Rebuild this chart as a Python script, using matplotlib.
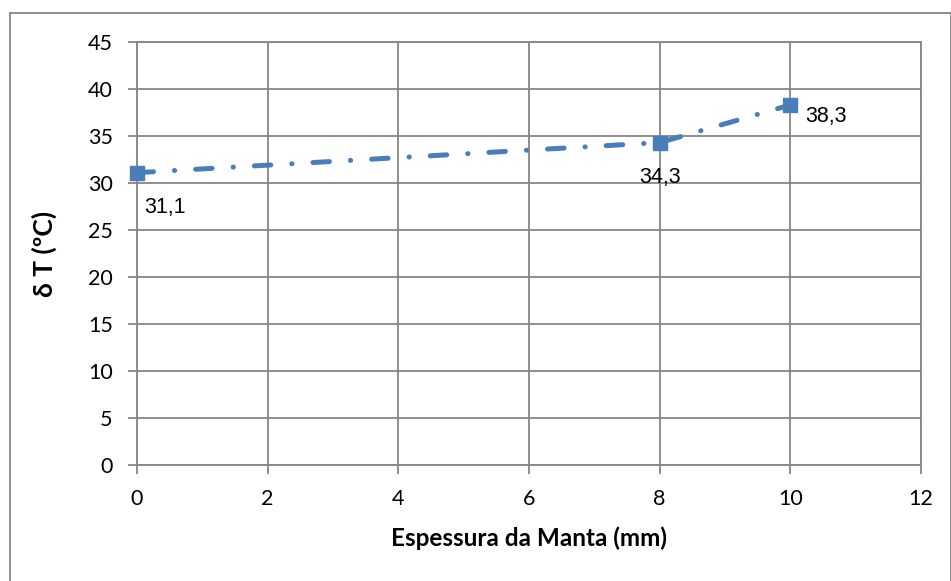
import matplotlib.pyplot as plt
from matplotlib.patches import Rectangle

espessura = [0, 8, 10]
delta_t = [31.1, 34.3, 38.3]
rotulos = ["31,1", "34,3", "38,3"]
offsets = [(5, -25), (0, -25), (11, -8)]
has = ["left", "center", "left"]

x_ticks = [0, 2, 4, 6, 8, 10, 12]
y_ticks = [0, 5, 10, 15, 20, 25, 30, 35, 40, 45]

cinza = "#868686"
azul = "#4A7EBB"

fig = plt.figure(figsize=(9.51, 5.81), dpi=100)
ax = fig.add_axes([137 / 951, 1 - 465 / 581, (921 - 137) / 951, (465 - 42) / 581])

ax.plot(espessura, delta_t, color=azul, linewidth=3.6, marker="s", markersize=10,
        dashes=(3.3, 4.2, 0.05, 4.2), dash_capstyle="round", solid_capstyle="round",
        clip_on=False, zorder=3)

for x, y, t, off, ha in zip(espessura, delta_t, rotulos, offsets, has):
    ax.annotate(t, (x, y), xytext=off, textcoords="offset points", ha=ha, va="center",
                fontsize=15.5, family="Liberation Sans", color="black")

ax.set_xlim(0, 12)
ax.set_ylim(0, 45)
ax.set_xticks(x_ticks)
ax.set_yticks(y_ticks)
ax.grid(True, color=cinza, linewidth=1.3)
ax.set_axisbelow(True)
for s in ax.spines.values():
    s.set_color(cinza)
    s.set_linewidth(1.3)
ax.tick_params(axis="both", direction="out", length=6.5, width=1.3, color=cinza,
               labelsize=15.5, pad=11)
ax.tick_params(axis="y", pad=11)
for lab in ax.get_xticklabels() + ax.get_yticklabels():
    lab.set_family("Lato")

ax.set_xlabel("Espessura da Manta (mm)", fontsize=17.5, fontweight="bold", family="Lato", labelpad=12)
ax.set_ylabel("δ T (ºC)", fontsize=19, fontweight="bold", family=["Lato", "DejaVu Sans"], labelpad=22)

fig.patches.append(Rectangle((9.5 / 951, -0.05), (950.5 - 9.5) / 951, 1.05 - 13 / 581,
                             transform=fig.transFigure, fill=False, edgecolor=cinza, linewidth=1.3))

fig.savefig("out.png", dpi=100)
